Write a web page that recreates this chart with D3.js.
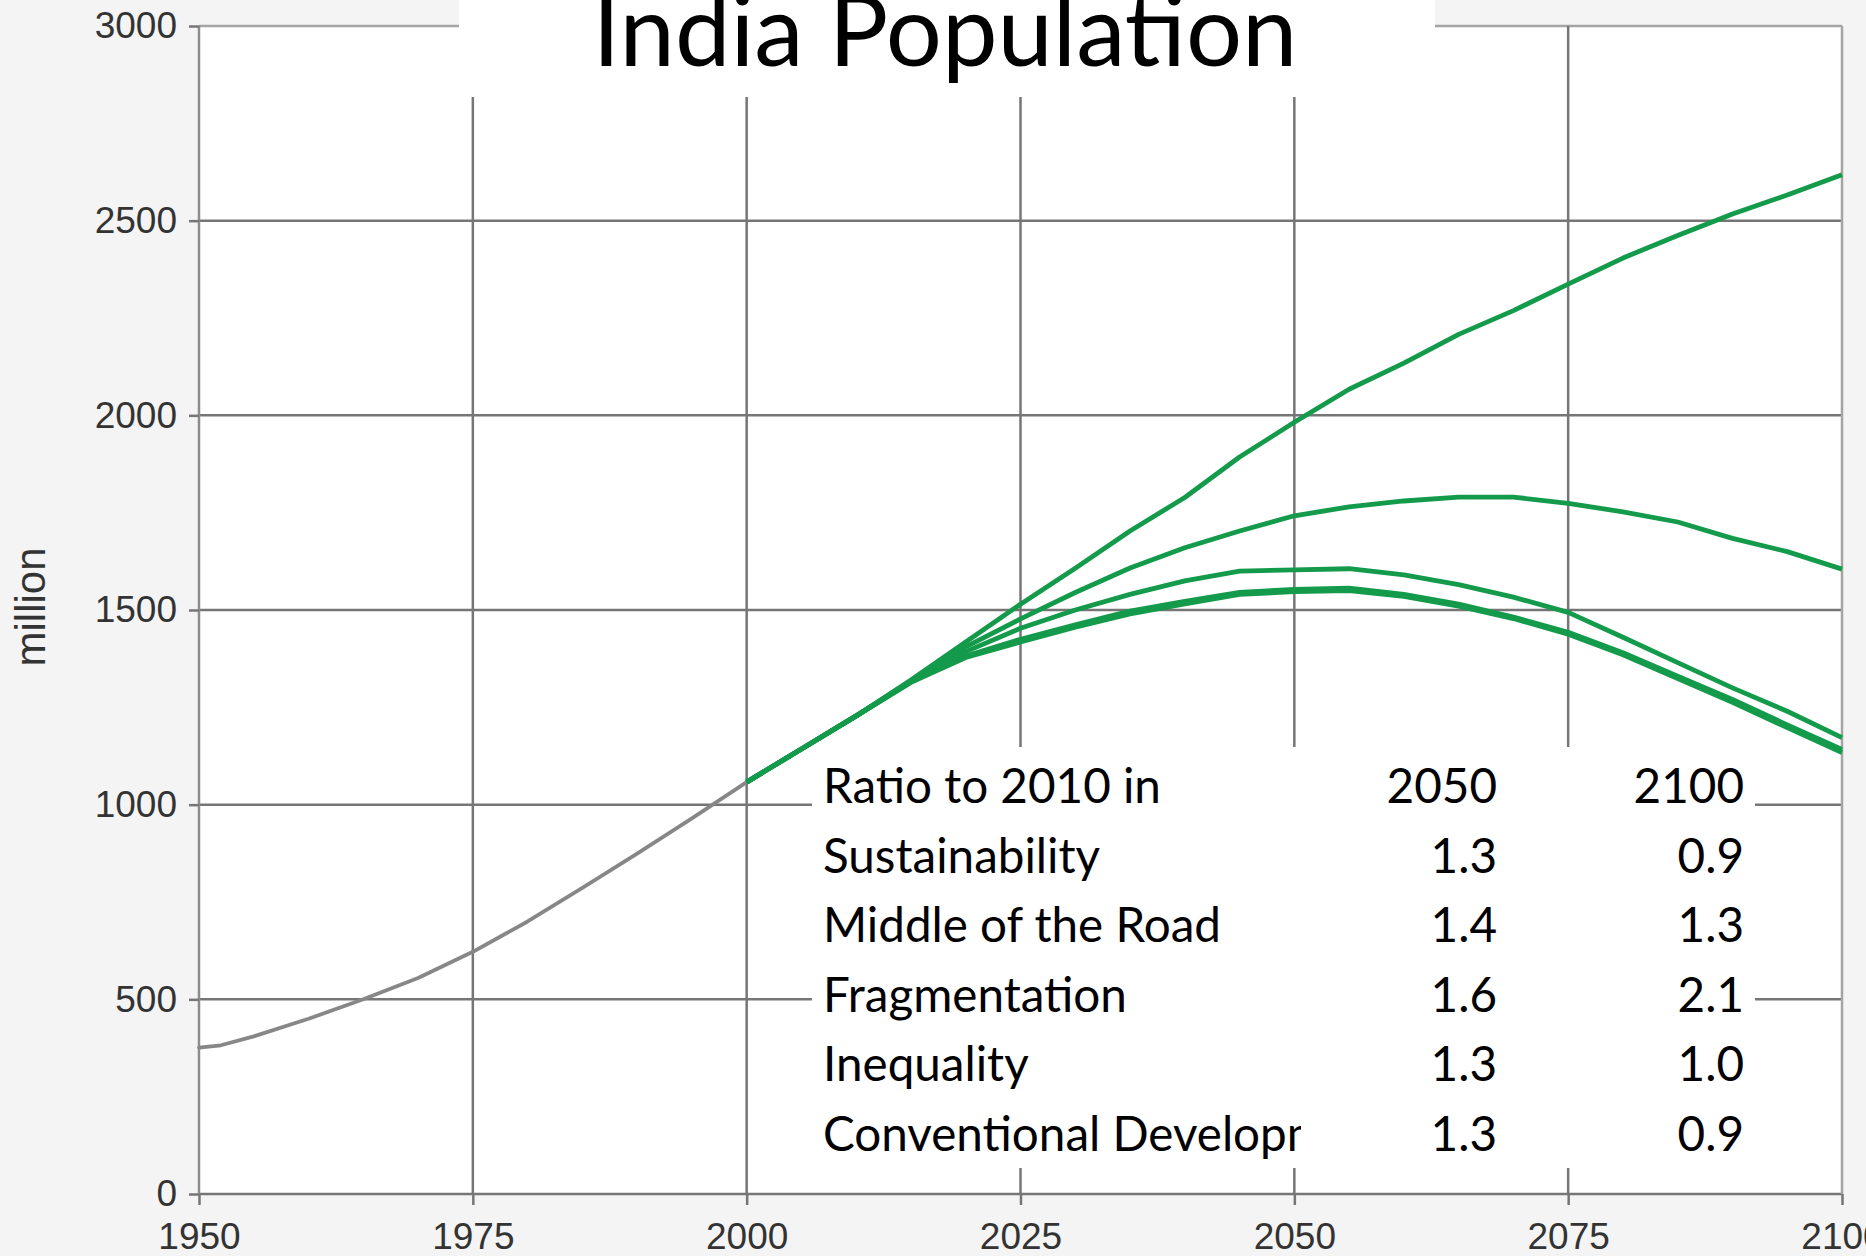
<!DOCTYPE html>
<html>
<head>
<meta charset="utf-8">
<script src="https://cdn.jsdelivr.net/npm/d3@7"></script>
<style>
  html, body { margin: 0; padding: 0; background: #f4f4f4; }
  svg { display: block; }
</style>
</head>
<body>
<svg id="chart"></svg>
<script>
// ---- data ----------------------------------------------------------------
const histYears  = [1950, 1952, 1955, 1960, 1965, 1970, 1975, 1980, 1985, 1990, 1995, 2000];
const histValues = [376, 382, 405, 450, 500, 555, 622, 700, 786, 874, 965, 1058];

const projYears = [2000, 2005, 2010, 2015, 2020, 2025, 2030, 2035, 2040, 2045, 2050,
                   2055, 2060, 2065, 2070, 2075, 2080, 2085, 2090, 2095, 2100];
const sustainability = [1058, 1143, 1228, 1315, 1382, 1425, 1462, 1497, 1522, 1545, 1553,
                        1556, 1540, 1515, 1482, 1443, 1390, 1330, 1270, 1205, 1142];
const middleOfTheRoad = [1058, 1143, 1228, 1318, 1405, 1477, 1545, 1608, 1660, 1703, 1742,
                         1765, 1780, 1790, 1790, 1774, 1752, 1726, 1684, 1650, 1605];
const fragmentation = [1058, 1143, 1228, 1320, 1418, 1515, 1607, 1703, 1789, 1893, 1982,
                       2067, 2134, 2208, 2269, 2337, 2404, 2462, 2517, 2566, 2618];
const inequality = [1058, 1143, 1228, 1317, 1393, 1453, 1500, 1540, 1575, 1600, 1603,
                    1606, 1590, 1565, 1533, 1494, 1430, 1365, 1300, 1240, 1172];
const conventional = [1058, 1143, 1228, 1314, 1378, 1418, 1456, 1490, 1516, 1540, 1547,
                      1550, 1535, 1510, 1478, 1438, 1385, 1324, 1263, 1198, 1134];

const xTicks = [1950, 1975, 2000, 2025, 2050, 2075, 2100];
const yTicks = [0, 500, 1000, 1500, 2000, 2500, 3000];

const titleText = "India Population";
const yAxisLabel = "million";
const tableHeader = ["Ratio to 2010 in", "2050", "2100"];
const scenarioNames = ["Sustainability", "Middle of the Road", "Fragmentation",
                       "Inequality", "Conventional Development"];
const ratio2050 = [1.3, 1.4, 1.6, 1.3, 1.3];
const ratio2100 = [0.9, 1.3, 2.1, 1.0, 0.9];

// ---- layout --------------------------------------------------------------
const W = 1866, H = 1256;
const plot = { left: 199, right: 1842, top: 26, bottom: 1194 };
const gridColor = "#767676";
const frameColor = "#a4a4a4";
const green = "#149a4b";
const gray = "#878787";
const axisFont = "'Liberation Sans', Arial, sans-serif";
const textFont = "Lato, 'Open Sans', sans-serif";

const svg = d3.select("#chart").attr("width", W).attr("height", H);

const x = d3.scaleLinear().domain([1950, 2100]).range([plot.left, plot.right]);
const y = d3.scaleLinear().domain([0, 3000]).range([plot.bottom, plot.top]);

svg.append("rect").attr("width", W).attr("height", H).attr("fill", "#f4f4f4");
svg.append("rect")
  .attr("x", plot.left).attr("y", plot.top)
  .attr("width", plot.right - plot.left).attr("height", plot.bottom - plot.top)
  .attr("fill", "#ffffff");

// grid
const grid = svg.append("g").attr("stroke-width", 2.5).attr("fill", "none");
grid.selectAll("line.h").data(yTicks).join("line")
  .attr("x1", plot.left).attr("x2", plot.right)
  .attr("y1", d => y(d)).attr("y2", d => y(d))
  .attr("stroke", d => d === 3000 ? frameColor : gridColor);
grid.selectAll("line.v").data(xTicks).join("line")
  .attr("y1", plot.top).attr("y2", plot.bottom)
  .attr("x1", d => x(d)).attr("x2", d => x(d))
  .attr("stroke", d => d === 2100 ? frameColor : (d === 1950 ? "#8c8c8c" : gridColor));

// axes (ticks + labels)
const yAxis = d3.axisLeft(y).tickValues(yTicks).tickFormat(d3.format("d"))
  .tickSize(10).tickPadding(12);
const gy = svg.append("g").attr("transform", `translate(${plot.left},0)`).call(yAxis);
const xAxis = d3.axisBottom(x).tickValues(xTicks).tickFormat(d3.format("d"))
  .tickSize(11).tickPadding(18);
const gx = svg.append("g").attr("transform", `translate(0,${plot.bottom})`).call(xAxis);
[gx, gy].forEach(g => {
  g.select(".domain").remove();
  g.selectAll(".tick line").attr("stroke", gridColor).attr("stroke-width", 2.5);
  g.selectAll(".tick text")
    .attr("fill", "#333333")
    .style("font-family", axisFont)
    .style("font-size", "37px");
});

svg.append("text")
  .attr("transform", "translate(45,607) rotate(-90)")
  .attr("text-anchor", "middle")
  .attr("fill", "#333333")
  .style("font-family", axisFont)
  .style("font-size", "42px")
  .text(yAxisLabel);

// series
const line = d3.line().x(d => x(d[0])).y(d => y(d[1]));
svg.append("path")
  .datum(histYears.map((yr, i) => [yr, histValues[i]]))
  .attr("d", line).attr("fill", "none")
  .attr("stroke", gray).attr("stroke-width", 3.8)
  .attr("stroke-linejoin", "round").attr("stroke-linecap", "round");

const scenarios = [sustainability, conventional, inequality, middleOfTheRoad, fragmentation];
svg.append("g").selectAll("path").data(scenarios).join("path")
  .attr("d", vals => line(projYears.map((yr, i) => [yr, vals[i]])))
  .attr("fill", "none")
  .attr("stroke", green).attr("stroke-width", 4.8)
  .attr("stroke-linejoin", "round");

// title panel
svg.append("rect").attr("x", 459).attr("y", 0).attr("width", 976).attr("height", 97)
  .attr("fill", "#ffffff");
const title = svg.append("text")
  .attr("x", 945).attr("y", 66)
  .attr("text-anchor", "middle")
  .attr("fill", "#000000")
  .style("font-family", textFont)
  .style("font-size", "100px")
  .text(titleText);
title.style("font-size", (100 * 705 / title.node().getComputedTextLength()) + "px");

// ratio table panel
svg.append("rect").attr("x", 812).attr("y", 747).attr("width", 943).attr("height", 421)
  .attr("fill", "#ffffff");
svg.append("clipPath").attr("id", "label-clip")
  .append("rect").attr("x", 800).attr("y", 740).attr("width", 501).attr("height", 440);

const table = svg.append("g")
  .attr("fill", "#000000")
  .style("font-family", textFont);
const probe = table.append("text").style("font-size", "100px").text(tableHeader[0]);
const tableSize = 100 * 338 / probe.node().getComputedTextLength();
probe.remove();
table.style("font-size", tableSize + "px");

const rowY = i => 803 + i * 69.5;
const colLabel = 823, col2050 = 1497, col2100 = 1744;

table.append("text").attr("x", colLabel).attr("y", rowY(0)).text(tableHeader[0]);
table.append("text").attr("x", col2050).attr("y", rowY(0))
  .attr("text-anchor", "end").text(tableHeader[1]);
table.append("text").attr("x", col2100).attr("y", rowY(0))
  .attr("text-anchor", "end").text(tableHeader[2]);

const rows = table.selectAll("g.row").data(scenarioNames).join("g").attr("class", "row");
rows.append("text")
  .attr("clip-path", "url(#label-clip)")
  .attr("x", colLabel).attr("y", (d, i) => rowY(i + 1)).text(d => d);
rows.append("text")
  .attr("x", col2050).attr("y", (d, i) => rowY(i + 1)).attr("text-anchor", "end")
  .text((d, i) => ratio2050[i].toFixed(1));
rows.append("text")
  .attr("x", col2100).attr("y", (d, i) => rowY(i + 1)).attr("text-anchor", "end")
  .text((d, i) => ratio2100[i].toFixed(1));
</script>
</body>
</html>
